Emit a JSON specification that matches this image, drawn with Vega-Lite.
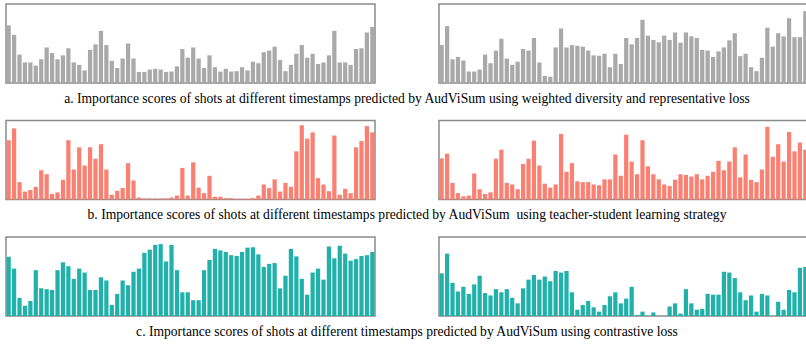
{
"$schema":"https://vega.github.io/schema/vega-lite/v6.json",
"padding":{"left":5,"top":3,"right":0,"bottom":0},
"background":"white",
"config":{"view":{"stroke":"#8a8a8a","strokeWidth":1.5},"concat":{"spacing":13.5}},
"datasets":{
"a1":[{"i":1,"v":0.73},{"i":2,"v":0.61},{"i":3,"v":0.36},{"i":4,"v":0.26},{"i":5,"v":0.26},{"i":6,"v":0.22},{"i":7,"v":0.30},{"i":8,"v":0.45},{"i":9,"v":0.38},{"i":10,"v":0.30},{"i":11,"v":0.35},{"i":12,"v":0.44},{"i":13,"v":0.26},{"i":14,"v":0.23},{"i":15,"v":0.16},{"i":16,"v":0.42},{"i":17,"v":0.49},{"i":18,"v":0.66},{"i":19,"v":0.48},{"i":20,"v":0.28},{"i":21,"v":0.19},{"i":22,"v":0.31},{"i":23,"v":0.50},{"i":24,"v":0.31},{"i":25,"v":0.14},{"i":26,"v":0.14},{"i":27,"v":0.17},{"i":28,"v":0.18},{"i":29,"v":0.17},{"i":30,"v":0.14},{"i":31,"v":0.145},{"i":32,"v":0.21},{"i":33,"v":0.43},{"i":34,"v":0.32},{"i":35,"v":0.45},{"i":36,"v":0.31},{"i":37,"v":0.19},{"i":38,"v":0.35},{"i":39,"v":0.20},{"i":40,"v":0.145},{"i":41,"v":0.18},{"i":42,"v":0.145},{"i":43,"v":0.15},{"i":44,"v":0.20},{"i":45,"v":0.16},{"i":46,"v":0.27},{"i":47,"v":0.25},{"i":48,"v":0.39},{"i":49,"v":0.41},{"i":50,"v":0.46},{"i":51,"v":0.29},{"i":52,"v":0.15},{"i":53,"v":0.23},{"i":54,"v":0.37},{"i":55,"v":0.48},{"i":56,"v":0.32},{"i":57,"v":0.37},{"i":58,"v":0.24},{"i":59,"v":0.26},{"i":60,"v":0.35},{"i":61,"v":0.66},{"i":62,"v":0.26},{"i":63,"v":0.26},{"i":64,"v":0.23},{"i":65,"v":0.43},{"i":66,"v":0.44},{"i":67,"v":0.64},{"i":68,"v":0.71}],
"a2":[{"i":1,"v":0.48},{"i":2,"v":0.72},{"i":3,"v":0.30},{"i":4,"v":0.33},{"i":5,"v":0.285},{"i":6,"v":0.145},{"i":7,"v":0.145},{"i":8,"v":0.17},{"i":9,"v":0.36},{"i":10,"v":0.25},{"i":11,"v":0.41},{"i":12,"v":0.56},{"i":13,"v":0.31},{"i":14,"v":0.23},{"i":15,"v":0.27},{"i":16,"v":0.43},{"i":17,"v":0.41},{"i":18,"v":0.57},{"i":19,"v":0.26},{"i":20,"v":0.09},{"i":21,"v":0.08},{"i":22,"v":0.45},{"i":23,"v":0.69},{"i":24,"v":0.45},{"i":25,"v":0.48},{"i":26,"v":0.47},{"i":27,"v":0.46},{"i":28,"v":0.41},{"i":29,"v":0.35},{"i":30,"v":0.345},{"i":31,"v":0.37},{"i":32,"v":0.20},{"i":33,"v":0.37},{"i":34,"v":0.24},{"i":35,"v":0.57},{"i":36,"v":0.49},{"i":37,"v":0.57},{"i":38,"v":0.80},{"i":39,"v":0.60},{"i":40,"v":0.545},{"i":41,"v":0.515},{"i":42,"v":0.60},{"i":43,"v":0.545},{"i":44,"v":0.64},{"i":45,"v":0.51},{"i":46,"v":0.64},{"i":47,"v":0.59},{"i":48,"v":0.57},{"i":49,"v":0.42},{"i":50,"v":0.41},{"i":51,"v":0.33},{"i":52,"v":0.40},{"i":53,"v":0.45},{"i":54,"v":0.54},{"i":55,"v":0.63},{"i":56,"v":0.34},{"i":57,"v":0.37},{"i":58,"v":0.20},{"i":59,"v":0.15},{"i":60,"v":0.32},{"i":61,"v":0.70},{"i":62,"v":0.46},{"i":63,"v":0.63},{"i":64,"v":0.59},{"i":65,"v":0.82},{"i":66,"v":0.58},{"i":67,"v":0.58},{"i":68,"v":0.91}],
"b1":[{"i":1,"v":0.75},{"i":2,"v":0.90},{"i":3,"v":0.22},{"i":4,"v":0.10},{"i":5,"v":0.12},{"i":6,"v":0.16},{"i":7,"v":0.37},{"i":8,"v":0.32},{"i":9,"v":0.07},{"i":10,"v":0.09},{"i":11,"v":0.25},{"i":12,"v":0.75},{"i":13,"v":0.38},{"i":14,"v":0.66},{"i":15,"v":0.43},{"i":16,"v":0.66},{"i":17,"v":0.515},{"i":18,"v":0.70},{"i":19,"v":0.38},{"i":20,"v":0.06},{"i":21,"v":0.11},{"i":22,"v":0.145},{"i":23,"v":0.46},{"i":24,"v":0.24},{"i":25,"v":0.025},{"i":26,"v":0.013},{"i":27,"v":0.013},{"i":28,"v":0.013},{"i":29,"v":0.013},{"i":30,"v":0.013},{"i":31,"v":0.025},{"i":32,"v":0.05},{"i":33,"v":0.40},{"i":34,"v":0.05},{"i":35,"v":0.47},{"i":36,"v":0.15},{"i":37,"v":0.08},{"i":38,"v":0.30},{"i":39,"v":0.035},{"i":40,"v":0.035},{"i":41,"v":0.017},{"i":42,"v":0.017},{"i":43,"v":0.01},{"i":44,"v":0.01},{"i":45,"v":0.01},{"i":46,"v":0.017},{"i":47,"v":0.05},{"i":48,"v":0.19},{"i":49,"v":0.145},{"i":50,"v":0.255},{"i":51,"v":0.10},{"i":52,"v":0.21},{"i":53,"v":0.16},{"i":54,"v":0.61},{"i":55,"v":0.94},{"i":56,"v":0.77},{"i":57,"v":0.85},{"i":58,"v":0.27},{"i":59,"v":0.19},{"i":60,"v":0.105},{"i":61,"v":0.81},{"i":62,"v":0.06},{"i":63,"v":0.135},{"i":64,"v":0.08},{"i":65,"v":0.66},{"i":66,"v":0.74},{"i":67,"v":0.93},{"i":68,"v":0.85}],
"b2":[{"i":1,"v":0.52},{"i":2,"v":0.58},{"i":3,"v":0.21},{"i":4,"v":0.08},{"i":5,"v":0.04},{"i":6,"v":0.05},{"i":7,"v":0.33},{"i":8,"v":0.13},{"i":9,"v":0.07},{"i":10,"v":0.09},{"i":11,"v":0.515},{"i":12,"v":0.63},{"i":13,"v":0.21},{"i":14,"v":0.19},{"i":15,"v":0.13},{"i":16,"v":0.45},{"i":17,"v":0.515},{"i":18,"v":0.745},{"i":19,"v":0.43},{"i":20,"v":0.20},{"i":21,"v":0.15},{"i":22,"v":0.19},{"i":23,"v":0.83},{"i":24,"v":0.35},{"i":25,"v":0.46},{"i":26,"v":0.23},{"i":27,"v":0.22},{"i":28,"v":0.22},{"i":29,"v":0.19},{"i":30,"v":0.18},{"i":31,"v":0.255},{"i":32,"v":0.255},{"i":33,"v":0.57},{"i":34,"v":0.30},{"i":35,"v":0.82},{"i":36,"v":0.48},{"i":37,"v":0.32},{"i":38,"v":0.75},{"i":39,"v":0.42},{"i":40,"v":0.32},{"i":41,"v":0.255},{"i":42,"v":0.19},{"i":43,"v":0.17},{"i":44,"v":0.25},{"i":45,"v":0.32},{"i":46,"v":0.31},{"i":47,"v":0.29},{"i":48,"v":0.32},{"i":49,"v":0.255},{"i":50,"v":0.30},{"i":51,"v":0.35},{"i":52,"v":0.49},{"i":53,"v":0.37},{"i":54,"v":0.48},{"i":55,"v":0.66},{"i":56,"v":0.28},{"i":57,"v":0.57},{"i":58,"v":0.25},{"i":59,"v":0.22},{"i":60,"v":0.38},{"i":61,"v":0.92},{"i":62,"v":0.54},{"i":63,"v":0.70},{"i":64,"v":0.48},{"i":65,"v":0.855},{"i":66,"v":0.61},{"i":67,"v":0.72},{"i":68,"v":0.63}],
"c1":[{"i":1,"v":0.75},{"i":2,"v":0.60},{"i":3,"v":0.23},{"i":4,"v":0.13},{"i":5,"v":0.19},{"i":6,"v":0.58},{"i":7,"v":0.35},{"i":8,"v":0.34},{"i":9,"v":0.33},{"i":10,"v":0.58},{"i":11,"v":0.68},{"i":12,"v":0.63},{"i":13,"v":0.47},{"i":14,"v":0.60},{"i":15,"v":0.55},{"i":16,"v":0.33},{"i":17,"v":0.33},{"i":18,"v":0.49},{"i":19,"v":0.45},{"i":20,"v":0.14},{"i":21,"v":0.28},{"i":22,"v":0.45},{"i":23,"v":0.39},{"i":24,"v":0.56},{"i":25,"v":0.60},{"i":26,"v":0.80},{"i":27,"v":0.84},{"i":28,"v":0.90},{"i":29,"v":0.91},{"i":30,"v":0.69},{"i":31,"v":0.90},{"i":32,"v":0.58},{"i":33,"v":0.30},{"i":34,"v":0.30},{"i":35,"v":0.20},{"i":36,"v":0.20},{"i":37,"v":0.58},{"i":38,"v":0.71},{"i":39,"v":0.85},{"i":40,"v":0.83},{"i":41,"v":0.81},{"i":42,"v":0.77},{"i":43,"v":0.76},{"i":44,"v":0.81},{"i":45,"v":0.865},{"i":46,"v":0.87},{"i":47,"v":0.78},{"i":48,"v":0.62},{"i":49,"v":0.66},{"i":50,"v":0.67},{"i":51,"v":0.35},{"i":52,"v":0.51},{"i":53,"v":0.85},{"i":54,"v":0.755},{"i":55,"v":0.47},{"i":56,"v":0.27},{"i":57,"v":0.55},{"i":58,"v":0.60},{"i":59,"v":0.46},{"i":60,"v":0.88},{"i":61,"v":0.73},{"i":62,"v":0.89},{"i":63,"v":0.79},{"i":64,"v":0.70},{"i":65,"v":0.72},{"i":66,"v":0.76},{"i":67,"v":0.77},{"i":68,"v":0.81}],
"c2":[{"i":1,"v":0.54},{"i":2,"v":0.79},{"i":3,"v":0.42},{"i":4,"v":0.31},{"i":5,"v":0.37},{"i":6,"v":0.28},{"i":7,"v":0.40},{"i":8,"v":0.51},{"i":9,"v":0.29},{"i":10,"v":0.26},{"i":11,"v":0.34},{"i":12,"v":0.30},{"i":13,"v":0.34},{"i":14,"v":0.23},{"i":15,"v":0.16},{"i":16,"v":0.35},{"i":17,"v":0.46},{"i":18,"v":0.52},{"i":19,"v":0.46},{"i":20,"v":0.50},{"i":21,"v":0.44},{"i":22,"v":0.57},{"i":23,"v":0.55},{"i":24,"v":0.57},{"i":25,"v":0.30},{"i":26,"v":0.08},{"i":27,"v":0.14},{"i":28,"v":0.19},{"i":29,"v":0.11},{"i":30,"v":0.055},{"i":31,"v":0.14},{"i":32,"v":0.25},{"i":33,"v":0.30},{"i":34,"v":0.16},{"i":35,"v":0.22},{"i":36,"v":0.37},{"i":37,"v":0.01},{"i":38,"v":0.055},{"i":39,"v":0},{"i":40,"v":0.045},{"i":41,"v":0},{"i":42,"v":0},{"i":43,"v":0.12},{"i":44,"v":0.16},{"i":45,"v":0.03},{"i":46,"v":0.34},{"i":47,"v":0.16},{"i":48,"v":0.08},{"i":49,"v":0.09},{"i":50,"v":0.28},{"i":51,"v":0.27},{"i":52,"v":0.27},{"i":53,"v":0.56},{"i":54,"v":0.55},{"i":55,"v":0.48},{"i":56,"v":0.30},{"i":57,"v":0.20},{"i":58,"v":0.26},{"i":59,"v":0.055},{"i":60,"v":0.28},{"i":61,"v":0.26},{"i":62,"v":0},{"i":63,"v":0.18},{"i":64,"v":0.08},{"i":65,"v":0.33},{"i":66,"v":0.30},{"i":67,"v":0.61},{"i":68,"v":0.62}]
},
"vconcat":[
{"title":{"text":"a. Importance scores of shots at different timestamps predicted by AudViSum using weighted diversity and representative loss","orient":"bottom","anchor":"middle","font":"Liberation Serif","fontSize":13.6,"fontWeight":"normal","color":"#000000","offset":8},
 "spacing":62,
 "hconcat":[
 {"width":369,"height":79,"data":{"name":"a1"},"mark":{"type":"bar","color":"#a9a9a9"},
  "encoding":{"x":{"field":"i","type":"ordinal","axis":null,"scale":{"paddingInner":0.22,"paddingOuter":0.1}},"y":{"field":"v","type":"quantitative","axis":null,"scale":{"domain":[0,1],"nice":false}}}},
 {"width":369,"height":79,"data":{"name":"a2"},"mark":{"type":"bar","color":"#a9a9a9"},
  "encoding":{"x":{"field":"i","type":"ordinal","axis":null,"scale":{"paddingInner":0.22,"paddingOuter":0.1}},"y":{"field":"v","type":"quantitative","axis":null,"scale":{"domain":[0,1],"nice":false}}}}
 ]},
{"title":{"text":"b. Importance scores of shots at different timestamps predicted by AudViSum \u00a0using teacher-student learning strategy","orient":"bottom","anchor":"middle","font":"Liberation Serif","fontSize":13.6,"fontWeight":"normal","color":"#000000","offset":8},
 "spacing":62,
 "hconcat":[
 {"width":369,"height":79,"data":{"name":"b1"},"mark":{"type":"bar","color":"#fa8072"},
  "encoding":{"x":{"field":"i","type":"ordinal","axis":null,"scale":{"paddingInner":0.22,"paddingOuter":0.1}},"y":{"field":"v","type":"quantitative","axis":null,"scale":{"domain":[0,1],"nice":false}}}},
 {"width":369,"height":79,"data":{"name":"b2"},"mark":{"type":"bar","color":"#fa8072"},
  "encoding":{"x":{"field":"i","type":"ordinal","axis":null,"scale":{"paddingInner":0.22,"paddingOuter":0.1}},"y":{"field":"v","type":"quantitative","axis":null,"scale":{"domain":[0,1],"nice":false}}}}
 ]},
{"title":{"text":"c. Importance scores of shots at different timestamps predicted by AudViSum using contrastive loss","orient":"bottom","anchor":"middle","font":"Liberation Serif","fontSize":13.6,"fontWeight":"normal","color":"#000000","offset":8},
 "spacing":62,
 "hconcat":[
 {"width":369,"height":79,"data":{"name":"c1"},"mark":{"type":"bar","color":"#20b2aa"},
  "encoding":{"x":{"field":"i","type":"ordinal","axis":null,"scale":{"paddingInner":0.22,"paddingOuter":0.1}},"y":{"field":"v","type":"quantitative","axis":null,"scale":{"domain":[0,1],"nice":false}}}},
 {"width":369,"height":79,"data":{"name":"c2"},"mark":{"type":"bar","color":"#20b2aa"},
  "encoding":{"x":{"field":"i","type":"ordinal","axis":null,"scale":{"paddingInner":0.22,"paddingOuter":0.1}},"y":{"field":"v","type":"quantitative","axis":null,"scale":{"domain":[0,1],"nice":false}}}}
 ]}
]
}
